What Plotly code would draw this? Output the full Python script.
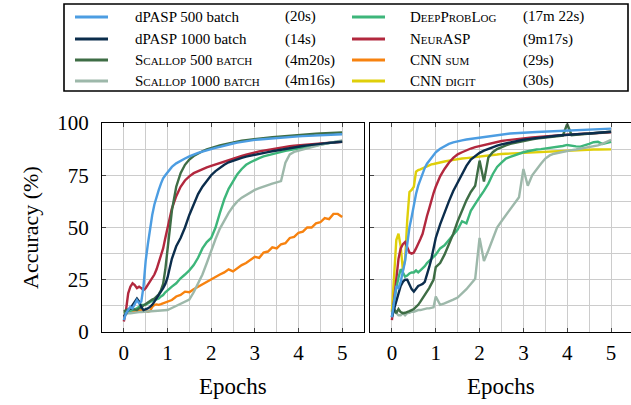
import plotly.graph_objects as go

W, H = 631, 405

EPOCHS = [0.0, 0.05, 0.1, 0.15, 0.2, 0.25, 0.3, 0.35, 0.4, 0.45, 0.5, 0.55, 0.6, 0.65, 0.7, 0.75, 0.8, 0.85, 0.9, 0.95, 1.0,
          1.1, 1.2, 1.3, 1.4, 1.5, 1.6, 1.7, 1.8, 1.9, 2.0, 2.1, 2.2, 2.3, 2.4, 2.5, 2.6, 2.7, 2.8, 2.9, 3.0,
          3.1, 3.2, 3.3, 3.4, 3.5, 3.6, 3.7, 3.8, 3.9, 4.0, 4.1, 4.2, 4.3, 4.4, 4.5, 4.6, 4.7, 4.8, 4.9, 5.0]

# ---- left panel (sum task) ----
L_DPASP_500 = [5.7, 9.0, 10.5, 12.0, 11.3, 13.0, 15.3, 13.7, 14.5, 21.7, 34.0, 42.0, 50.0, 56.0, 61.0, 65.0, 68.0, 71.0, 73.5, 75.0, 76.5,
               79.0, 80.7, 82.0, 83.0, 84.0, 85.0, 85.7, 86.3, 87.0, 87.5, 88.1, 88.6, 89.2, 89.7, 90.2, 90.6, 91.0, 91.3, 91.6, 91.9,
               92.1, 92.3, 92.5, 92.7, 92.9, 93.1, 93.2, 93.4, 93.5, 93.6, 93.7, 93.8, 93.9, 94.0, 94.1, 94.2, 94.3, 94.4, 94.5, 94.6]
L_DPASP_1000 = [7.3, 9.0, 10.5, 11.3, 13.0, 14.5, 16.0, 14.5, 12.0, 10.5, 10.8, 11.3, 12.0, 13.0, 14.5, 16.0, 17.7, 19.3, 21.0, 23.0, 26.0,
                35.0, 41.0, 45.0, 50.0, 56.0, 61.0, 66.0, 69.5, 72.5, 75.0, 77.0, 78.7, 80.0, 81.2, 82.0, 82.7, 83.3, 83.9, 84.4, 84.8,
                85.3, 85.7, 86.1, 86.5, 86.9, 87.3, 87.7, 88.1, 88.4, 88.7, 89.0, 89.3, 89.6, 89.9, 90.1, 90.3, 90.5, 90.7, 90.8, 91.0]
L_SCALLOP_500 = [9.7, 10.5, 10.8, 11.3, 11.0, 10.8, 10.5, 11.3, 12.0, 13.0, 13.7, 14.0, 15.0, 15.5, 16.0, 17.0, 18.0, 20.0, 23.0, 30.0, 40.0,
                 58.0, 69.5, 76.0, 80.0, 82.5, 84.2, 85.5, 86.5, 87.4, 88.1, 88.7, 89.3, 89.8, 90.3, 90.7, 91.1, 91.5, 91.8, 92.1, 92.4,
                 92.6, 92.8, 93.0, 93.2, 93.4, 93.6, 93.8, 94.0, 94.2, 94.3, 94.5, 94.6, 94.8, 94.9, 95.0, 95.1, 95.2, 95.3, 95.4, 95.5]
L_SCALLOP_1000 = [8.0, 8.5, 9.0, 9.0, 9.2, 9.3, 9.5, 9.5, 9.6, 9.7, 9.8, 9.9, 10.0, 10.0, 10.1, 10.2, 10.3, 10.3, 10.4, 10.5, 10.5,
                  11.5, 12.5, 13.5, 14.5, 15.5, 19.0, 23.0, 27.5, 33.0, 39.0, 44.5, 49.5, 53.5, 57.0, 60.0, 62.5, 64.3, 65.6, 66.8, 68.0,
                  68.8, 69.6, 70.3, 71.0, 71.6, 72.2, 81.0, 85.0, 86.2, 86.8, 87.4, 88.0, 88.5, 89.0, 89.5, 90.0, 90.5, 90.9, 91.3, 91.7]
L_DEEPPROBLOG = [9.0, 9.3, 9.7, 10.0, 10.5, 10.8, 11.3, 12.0, 13.0, 13.0, 13.0, 13.7, 14.5, 15.0, 15.3, 15.7, 16.0, 17.0, 17.7, 19.0, 20.0,
                 21.7, 23.3, 25.7, 27.5, 29.5, 32.0, 35.5, 40.0, 43.0, 45.0, 50.0, 57.0, 63.5, 68.5, 72.0, 75.5, 78.0, 80.0, 81.2, 82.3,
                 83.2, 84.0, 84.6, 85.2, 85.7, 86.2, 86.7, 87.1, 87.5, 87.9, 88.3, 88.7, 89.1, 89.5, 89.9, 90.2, 90.5, 90.8, 91.1, 91.4]
L_NEURASP = [5.0, 10.5, 18.5, 21.7, 23.3, 22.5, 21.0, 21.7, 21.0, 20.0, 21.0, 22.5, 24.0, 25.5, 27.5, 30.0, 33.0, 36.5, 40.0, 45.0, 50.0,
             59.0, 65.0, 69.5, 72.5, 74.5, 76.0, 77.0, 78.0, 78.8, 79.5, 80.2, 81.0, 81.7, 82.4, 83.0, 83.6, 84.2, 84.8, 85.4, 86.0,
             86.4, 86.8, 87.2, 87.6, 88.0, 88.3, 88.6, 88.9, 89.1, 89.3, 89.5, 89.7, 89.9, 90.1, 90.3, 90.5, 90.7, 90.8, 90.9, 91.0]
L_CNN_SUM = [9.0, 9.0, 9.2, 9.5, 9.7, 9.7, 9.7, 10.0, 10.5, 10.3, 10.2, 9.7, 10.0, 12.0, 13.0, 13.2, 13.0, 13.3, 13.7, 14.0, 14.5,
             15.3, 17.0, 17.7, 19.3, 19.0, 20.5, 21.7, 23.0, 24.0, 25.0, 26.5, 27.5, 28.5, 30.0, 29.0, 30.5, 32.0, 33.0, 34.5, 36.0,
             35.5, 38.0, 38.5, 40.5, 40.0, 42.0, 42.5, 45.0, 45.5, 47.5, 48.0, 50.0, 50.0, 52.0, 52.5, 54.5, 54.0, 56.5, 56.5, 55.0]

# ---- right panel (digit task) ----
R_DPASP_500 = [7.0, 15.0, 22.0, 21.0, 24.0, 29.0, 34.0, 42.0, 50.0, 55.0, 61.0, 66.0, 70.0, 73.0, 76.0, 78.5, 80.5, 82.0, 83.5, 85.0, 86.0,
               87.7, 89.0, 90.0, 90.7, 91.3, 91.7, 92.1, 92.4, 92.7, 93.0, 93.3, 93.6, 94.0, 94.3, 94.6, 94.8, 95.0, 95.1, 95.3, 95.4,
               95.5, 95.6, 95.7, 95.8, 96.0, 96.1, 96.2, 96.3, 96.4, 96.5, 96.6, 96.7, 96.8, 96.8, 96.9, 97.0, 97.1, 97.2, 97.2, 97.3]
R_DPASP_1000 = [7.3, 11.0, 14.0, 18.0, 22.0, 24.0, 25.0, 25.0, 23.0, 20.5, 19.3, 20.5, 22.0, 22.5, 23.0, 24.0, 27.0, 31.0, 35.0, 40.0, 45.0,
                51.5, 57.5, 62.5, 67.5, 71.5, 75.5, 79.5, 82.5, 84.3, 85.7, 86.8, 87.7, 88.5, 89.2, 89.8, 90.3, 90.8, 91.2, 91.6, 92.0,
                92.3, 92.6, 92.9, 93.1, 93.4, 93.6, 93.8, 94.0, 94.2, 94.3, 94.5, 94.6, 94.8, 94.9, 95.0, 95.2, 95.3, 95.5, 95.6, 95.8]
R_SCALLOP_500 = [7.3, 11.3, 9.0, 11.0, 9.5, 9.0, 9.2, 9.5, 10.0, 10.5, 11.0, 12.0, 13.0, 14.5, 16.0, 18.0, 19.5, 21.0, 23.0, 25.0, 31.0,
                 33.0, 37.0, 42.0, 47.0, 53.0, 58.5, 63.0, 67.0, 70.0, 82.0, 72.0, 83.5, 86.0, 87.5, 88.5, 89.3, 90.0, 90.5, 91.0, 91.4,
                 91.8, 92.2, 92.5, 92.8, 93.0, 93.3, 93.5, 93.7, 94.0, 99.5, 94.2, 94.4, 94.6, 94.8, 95.0, 95.1, 95.3, 95.5, 95.6, 95.8]
R_SCALLOP_1000 = [9.0, 9.7, 9.0, 8.0, 8.0, 9.0, 8.0, 9.0, 9.2, 9.7, 9.7, 10.2, 10.5, 10.5, 10.8, 11.2, 11.3, 11.3, 11.6, 11.8, 17.0,
                  13.0, 13.7, 14.5, 15.5, 16.5, 18.5, 20.5, 23.0, 25.5, 45.0, 34.0, 39.0, 45.0, 50.0, 53.0, 56.0, 59.0, 62.0, 64.5, 78.0,
                  70.0, 75.0, 78.0, 80.5, 83.0, 84.5, 85.3, 85.8, 86.2, 86.5, 87.0, 87.3, 87.7, 88.0, 88.5, 89.0, 89.3, 90.0, 91.0, 92.0]
R_DEEPPROBLOG = [7.3, 15.0, 21.0, 26.0, 30.0, 28.5, 26.5, 27.0, 28.0, 28.5, 28.5, 29.5, 28.5, 29.5, 30.5, 31.5, 33.0, 34.0, 35.0, 36.0, 37.0,
                 40.0, 41.5, 44.0, 46.5, 49.0, 53.0, 52.0, 58.0, 61.5, 64.5, 67.5, 71.0, 75.5, 79.0, 81.0, 83.0, 83.8, 84.5, 85.5, 86.0,
                 86.5, 87.0, 87.3, 87.5, 87.8, 88.0, 88.2, 88.6, 89.0, 89.5, 89.0, 88.8, 88.7, 89.2, 90.0, 90.8, 91.0, 90.0, 90.5, 91.0]
R_NEURASP = [5.7, 15.0, 27.0, 35.0, 40.0, 42.0, 43.0, 40.0, 38.0, 37.5, 38.0, 40.0, 42.0, 44.5, 47.0, 52.0, 55.5, 59.0, 63.0, 66.5, 69.5,
             74.5, 78.0, 81.0, 83.3, 85.0, 86.0, 87.0, 87.8, 88.5, 89.0, 89.6, 90.1, 90.6, 91.0, 91.4, 91.7, 92.0, 92.3, 92.5, 92.7,
             92.9, 93.1, 93.3, 93.5, 93.6, 93.8, 94.0, 94.1, 94.3, 94.4, 94.5, 94.7, 94.8, 94.9, 95.0, 95.1, 95.2, 95.4, 95.5, 95.6]
R_CNN_DIGIT = [9.7, 26.5, 44.0, 47.0, 41.0, 29.7, 34.4, 53.6, 67.0, 68.0, 69.5, 76.7, 77.5, 77.8, 78.3, 79.0, 79.4, 79.9, 80.2, 80.4, 80.7,
               81.2, 81.6, 82.0, 82.4, 82.7, 83.0, 83.2, 83.4, 83.6, 83.8, 84.0, 84.3, 84.6, 84.9, 85.2, 85.3, 85.5, 85.6, 85.8, 86.0,
               86.1, 86.2, 86.3, 86.4, 86.5, 86.6, 86.7, 86.8, 86.9, 87.0, 87.0, 87.1, 87.1, 87.2, 87.2, 87.3, 87.3, 87.4, 87.4, 87.4]

X_TICKS = [0, 1, 2, 3, 4, 5]
Y_TICKS = [0, 25, 50, 75, 100]

C_DPASP_500 = "#4c9de2"
C_DPASP_1000 = "#0b2d4c"
C_SCALLOP_500 = "#3e6d45"
C_SCALLOP_1000 = "#9db8aa"
C_DPL = "#3db67a"
C_NEURASP = "#b2283e"
C_CNN_SUM = "#f7820f"
C_CNN_DIGIT = "#dfcf0a"

FONT = "Liberation Serif"


def fx(px):
    return px / W


def fy(py):
    return 1 - py / H


fig = go.Figure()

left_series = [
    (L_CNN_SUM, C_CNN_SUM), (L_NEURASP, C_NEURASP), (L_DEEPPROBLOG, C_DPL),
    (L_SCALLOP_1000, C_SCALLOP_1000), (L_SCALLOP_500, C_SCALLOP_500),
    (L_DPASP_1000, C_DPASP_1000), (L_DPASP_500, C_DPASP_500),
]
right_series = [
    (R_CNN_DIGIT, C_CNN_DIGIT), (R_NEURASP, C_NEURASP), (R_DEEPPROBLOG, C_DPL),
    (R_SCALLOP_1000, C_SCALLOP_1000), (R_SCALLOP_500, C_SCALLOP_500),
    (R_DPASP_1000, C_DPASP_1000), (R_DPASP_500, C_DPASP_500),
]
for ys, c in left_series:
    fig.add_trace(go.Scatter(x=EPOCHS, y=ys, mode="lines", line=dict(color=c, width=2.4),
                             xaxis="x", yaxis="y", showlegend=False, hoverinfo="skip"))
for ys, c in right_series:
    fig.add_trace(go.Scatter(x=EPOCHS, y=ys, mode="lines", line=dict(color=c, width=2.4),
                             xaxis="x2", yaxis="y2", showlegend=False, hoverinfo="skip"))

grid = "#cccccc"
common_x = dict(tickvals=X_TICKS, ticktext=[str(v) for v in X_TICKS], showgrid=True, gridcolor=grid, gridwidth=1,
                minor=dict(dtick=0.5, tick0=0, showgrid=True, gridcolor=grid, gridwidth=1, ticks=""),
                ticks="inside", ticklen=4, tickcolor="#444", showline=True, linecolor="black", linewidth=1.3,
                mirror="ticks", zeroline=False, tickfont=dict(family=FONT, size=21, color="black"),
                ticklabelstandoff=2, automargin=False)
common_y = dict(range=[0, 100], tickvals=Y_TICKS, showgrid=True, gridcolor=grid, gridwidth=1,
                minor=dict(dtick=12.5, tick0=0, showgrid=True, gridcolor=grid, gridwidth=1, ticks=""),
                ticks="inside", ticklen=4, tickcolor="#444", showline=True, linecolor="black", linewidth=1.3,
                zeroline=False, tickfont=dict(family=FONT, size=21, color="black"), automargin=False)

ydom = [fy(332), fy(123)]
fig.update_layout(
    width=W, height=H, margin=dict(l=0, r=0, t=0, b=0, pad=0), autosize=False,
    paper_bgcolor="white", plot_bgcolor="white", showlegend=False,
    xaxis=dict(domain=[fx(102), fx(364)], range=[-0.5, 5.5], anchor="y", **common_x),
    yaxis=dict(domain=ydom, anchor="x", mirror="ticks", ticklabelstandoff=8, **common_y),
    xaxis2=dict(domain=[fx(370), 1.0], range=[-0.5, 5.455], anchor="y2", **common_x),
    yaxis2=dict(domain=ydom, anchor="x2", mirror=False, showticklabels=False, **common_y),
)

annotations = [
    dict(text="Epochs", x=fx(233), y=fy(386), xref="paper", yref="paper", showarrow=False,
         font=dict(family=FONT, size=23, color="black"), xanchor="center", yanchor="middle"),
    dict(text="Epochs", x=fx(501), y=fy(386), xref="paper", yref="paper", showarrow=False,
         font=dict(family=FONT, size=23, color="black"), xanchor="center", yanchor="middle"),
    dict(text="Accuracy (%)", x=fx(30), y=fy(228), xref="paper", yref="paper", showarrow=False, textangle=-90,
         font=dict(family=FONT, size=22, color="black"), xanchor="center", yanchor="middle"),
]

SC = 'font-size:11px'


def sc(s):
    return '<span style="%s">%s</span>' % (SC, s)


LEGEND_LEFT = [
    ("dPASP 500 batch", "(20s)", C_DPASP_500),
    ("dPASP 1000 batch", "(14s)", C_DPASP_1000),
    ("S" + sc("CALLOP") + " 500 " + sc("BATCH"), "(4m20s)", C_SCALLOP_500),
    ("S" + sc("CALLOP") + " 1000 " + sc("BATCH"), "(4m16s)", C_SCALLOP_1000),
]
LEGEND_RIGHT = [
    ("D" + sc("EEP") + "P" + sc("ROB") + "L" + sc("OG"), "(17m 22s)", C_DPL),
    ("N" + sc("EUR") + "ASP", "(9m17s)", C_NEURASP),
    ("CNN " + sc("SUM"), "(29s)", C_CNN_SUM),
    ("CNN " + sc("DIGIT"), "(30s)", C_CNN_DIGIT),
]
rows = [17, 39, 60, 81]

shapes = [dict(type="rect", xref="paper", yref="paper", x0=fx(64), x1=fx(628), y0=fy(91), y1=fy(4),
               line=dict(color="black", width=1.6), fillcolor="rgba(0,0,0,0)")]

for entries, lx0, lx1, nx, tx in [(LEGEND_LEFT, 75, 108, 133, 283), (LEGEND_RIGHT, 352, 385, 408, 521)]:
    for (name, t, c), ry in zip(entries, rows):
        shapes.append(dict(type="line", xref="paper", yref="paper", x0=fx(lx0), x1=fx(lx1), y0=fy(ry), y1=fy(ry),
                           line=dict(color=c, width=3)))
        annotations.append(dict(text=name, x=fx(nx), y=fy(ry), xref="paper", yref="paper", showarrow=False,
                                xanchor="left", yanchor="middle", font=dict(family=FONT, size=15, color="black")))
        annotations.append(dict(text=t, x=fx(tx), y=fy(ry), xref="paper", yref="paper", showarrow=False,
                                xanchor="left", yanchor="middle", font=dict(family=FONT, size=15, color="black")))

fig.update_layout(annotations=annotations, shapes=shapes)
fig.write_html("out.html", config={"displayModeBar": False},
               post_script="document.body.style.margin='0';document.body.style.padding='0';"
                           "document.documentElement.style.overflow='hidden';")
